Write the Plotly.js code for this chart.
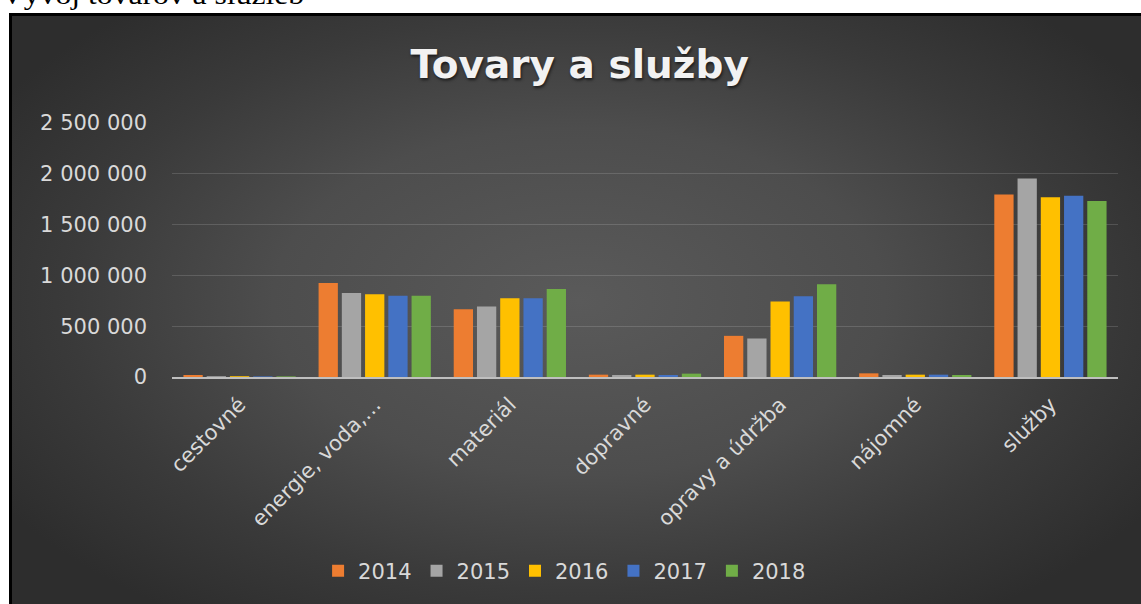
<!DOCTYPE html>
<html>
<head>
<meta charset="utf-8">
<script src="https://cdn.plot.ly/plotly-3.0.1.min.js"></script>
<style>
  html, body { margin: 0; padding: 0; background: #ffffff; width: 1141px; height: 604px; overflow: hidden; }
  #heading { position: absolute; left: 1px; top: -21px; font-family: "Liberation Serif", "Times New Roman", serif; font-size: 28px; color: #000; white-space: nowrap; transform: scaleX(1.13); transform-origin: 0 0; }
  #frame { position: absolute; left: 9px; top: 13px; width: 1140px; height: 600px; border: 3px solid #000; box-sizing: border-box;
           background: radial-gradient(ellipse 60% 65% at 50% 48%, #5a5a5a 0%, #4d4d4d 45%, #3a3a3a 75%, #2d2d2d 100%); }
  #chart { position: absolute; left: 0; top: 0; width: 1141px; height: 604px; }
</style>
</head>
<body>
<div id="heading">Vývoj tovarov a služieb</div>
<div id="frame"></div>
<div id="chart"></div>
<script>
const categories = ['cestovné', 'energie, voda,…', 'materiál', 'dopravné', 'opravy a údržba', 'nájomné', 'služby'];
const years = ['2014', '2015', '2016', '2017', '2018'];
const v2014 = [20000, 925000, 667000, 23000, 405000, 36000, 1797000];
const v2015 = [8000, 827000, 694000, 20000, 379000, 20000, 1954000];
const v2016 = [8000, 814000, 774000, 23000, 742000, 23000, 1768000];
const v2017 = [6000, 800000, 774000, 20000, 794000, 23000, 1784000];
const v2018 = [6000, 800000, 867000, 33000, 912000, 20000, 1732000];
const yTicks = [0, 500000, 1000000, 1500000, 2000000, 2500000];

const series = [v2014, v2015, v2016, v2017, v2018];
const colors = ['#ED7D31', '#A5A5A5', '#FFC000', '#4472C4', '#70AD47'];

const traces = series.map((vals, i) => ({
  type: 'bar',
  name: years[i],
  x: categories,
  y: vals,
  marker: { color: colors[i], line: { width: 0 } },
  hoverinfo: 'x+y+name'
}));

const layout = {
  width: 1141,
  height: 604,
  paper_bgcolor: 'rgba(0,0,0,0)',
  plot_bgcolor: 'rgba(0,0,0,0)',
  margin: { l: 172, r: 23, t: 123, b: 227, pad: 0 },
  separators: ', ',
  barmode: 'group',
  bargap: 0.14,
  bargroupgap: 0.17,
  title: {
    text: 'Tovary a služby',
    x: 0.508, xanchor: 'center', xref: 'container',
    y: 0.894, yanchor: 'middle', yref: 'container',
    font: { family: 'DejaVu Sans, sans-serif', size: 39, weight: 700, color: '#f2f2f2',
            shadow: '1px 2px 3px rgba(0,0,0,0.6)' }
  },
  font: { family: 'DejaVu Sans, sans-serif', color: '#d9d9d9' },
  xaxis: {
    type: 'category',
    tickangle: -45,
    tickfont: { family: 'DejaVu Sans, sans-serif', size: 21, color: '#d9d9d9' },
    ticklabelstandoff: 5,
    showline: true, linecolor: '#bfbfbf', linewidth: 2,
    showgrid: false, zeroline: false, ticks: '',
    fixedrange: true
  },
  yaxis: {
    range: [0, 2500000],
    tickvals: yTicks,
    tickformat: ',d',
    tickfont: { family: 'DejaVu Sans, sans-serif', size: 21, color: '#d9d9d9' },
    ticklabelstandoff: 24,
    showgrid: true, gridcolor: 'rgba(255,255,255,0.14)', gridwidth: 1,
    zeroline: false, showline: false, ticks: '',
    fixedrange: true
  },
  legend: {
    orientation: 'h',
    x: 0.415, xanchor: 'center', xref: 'paper',
    y: -0.764, yanchor: 'middle', yref: 'paper',
    font: { family: 'DejaVu Sans, sans-serif', size: 21, color: '#d9d9d9' },
    bgcolor: 'rgba(0,0,0,0)',
    traceorder: 'normal'
  },
  showlegend: true
};

Plotly.newPlot('chart', traces, layout, { displayModeBar: false, staticPlot: true });
</script>
</body>
</html>
